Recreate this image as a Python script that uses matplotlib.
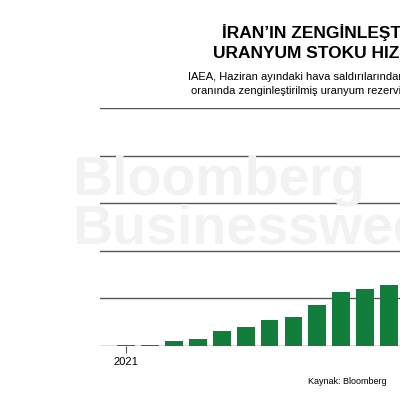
import matplotlib
matplotlib.use("Agg")
import matplotlib.pyplot as plt

values = [2, 2, 11, 15, 32, 40, 55, 61, 86, 114, 120, 128, 120]
tick_labels = ["2021"]
grid_vals = [0, 100, 200, 300, 400, 500]

fig = plt.figure(figsize=(4, 4), dpi=100)
fig.patch.set_facecolor("white")
ff = ["Liberation Sans", "DejaVu Sans"]

# watermark
fig.text(0.18, 0.512, "Bloomberg", fontsize=40, fontweight="bold", color="#f2f2f2", family=ff, ha="left", va="baseline")
fig.text(0.18, 0.392, "Businessweek", fontsize=40, fontweight="bold", color="#f2f2f2", family=ff, ha="left", va="baseline")

ax = fig.add_axes([0.25, 0.135, 0.80, 0.595])
ax.set_facecolor("none")
x = list(range(len(values)))
ax.bar(x, values, width=0.74, color="#137d3c", zorder=3)
for g in grid_vals:
    ax.axhline(g, color="#555555", lw=1.0, zorder=1)
ax.set_ylim(0, 500)
ax.set_xlim(-1.1, 12.3)
ax.set_xticks([0])
ax.set_xticklabels(tick_labels, fontsize=8, family=ff)
ax.tick_params(axis="x", length=5, color="#555555", pad=3)
ax.set_yticks([])
for s in ax.spines.values():
    s.set_visible(False)

fig.text(0.555, 0.918, "İRAN’IN ZENGİNLEŞTİRİLMİŞ", fontsize=12.5, fontweight="bold", family=ff, ha="left", va="center")
fig.text(0.533, 0.867, "URANYUM STOKU HIZLA ARTIYOR", fontsize=12.5, fontweight="bold", family=ff, ha="left", va="center")
fig.text(0.47, 0.807, "IAEA, Haziran ayındaki hava saldırılarından önce yüzde 60", fontsize=8, family=ff, ha="left", va="center")
fig.text(0.478, 0.772, "oranında zenginleştirilmiş uranyum rezervi tespit etti", fontsize=8, family=ff, ha="left", va="center")
fig.text(0.77, 0.046, "Kaynak: Bloomberg", fontsize=6.5, family=ff, ha="left", va="center")

fig.savefig("out.png", dpi=100, facecolor="white")
